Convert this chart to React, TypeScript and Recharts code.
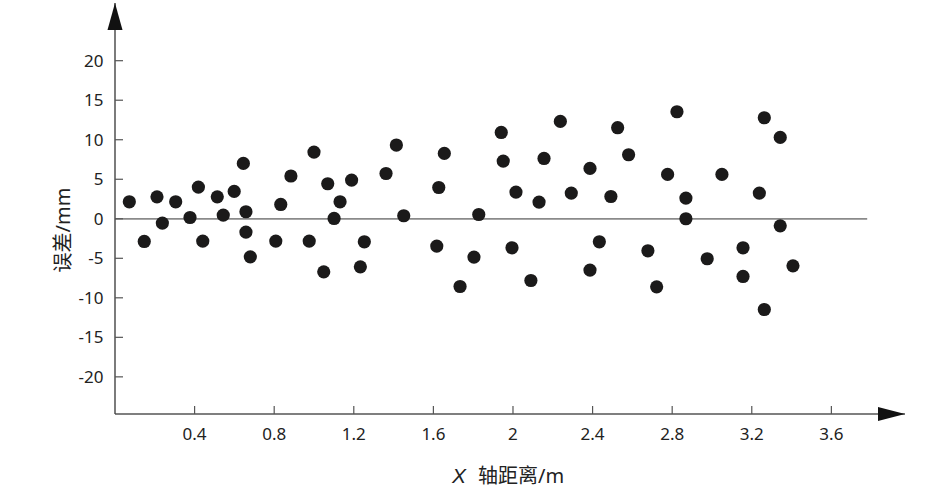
import React from "react";
import {
  ScatterChart,
  Scatter,
  XAxis,
  YAxis,
  ReferenceLine,
  ReferenceDot,
} from "recharts";

// X-axis distance (m)
const xValues: number[] = [
  0.072, 0.147, 0.211, 0.238, 0.305, 0.377, 0.419, 0.441, 0.514, 0.544,
  0.599, 0.645, 0.658, 0.658, 0.68, 0.808, 0.833, 0.884, 1.0, 0.976,
  1.049, 1.069, 1.101, 1.131, 1.189, 1.233, 1.253, 1.362, 1.414, 1.451,
  1.617, 1.627, 1.655, 1.734, 1.804, 1.828, 1.941, 1.951, 1.995, 2.015,
  2.09, 2.131, 2.156, 2.238, 2.293, 2.387, 2.387, 2.434, 2.492, 2.526,
  2.581, 2.678, 2.722, 2.777, 2.824, 2.869, 2.869, 2.976, 3.05, 3.156,
  3.156, 3.238, 3.263, 3.263, 3.343, 3.343, 3.407,
];

// Error (mm)
const errValues: number[] = [
  2.15, -2.87, 2.78, -0.54, 2.15, 0.16, 4.01, -2.82, 2.78, 0.47,
  3.46, 7.0, 0.89, -1.68, -4.81, -2.82, 1.81, 5.41, 8.44, -2.82,
  -6.71, 4.43, 0.04, 2.15, 4.9, -6.08, -2.91, 5.73, 9.33, 0.38,
  -3.46, 3.96, 8.27, -8.57, -4.85, 0.54, 10.92, 7.3, -3.67, 3.38,
  -7.81, 2.11, 7.63, 12.32, 3.25, 6.37, -6.49, -2.91, 2.82, 11.52,
  8.1, -4.05, -8.61, 5.61, 13.54, 2.62, 0.0, -5.06, 5.61, -3.67,
  -7.3, 3.25, 12.78, -11.48, 10.29, -0.89, -5.95,
];

const xTicks: number[] = [0.4, 0.8, 1.2, 1.6, 2, 2.4, 2.8, 3.2, 3.6];
const yTicks: number[] = [20, 15, 10, 5, 0, -5, -10, -15, -20];

const X_MAX = 3.97;
const Y_MIN = -24.7;
const Y_MAX = 27.3;
const ZERO_LINE_END = 3.78;

const data = xValues.map((x, i) => ({ x, y: errValues[i] }));

const FONT = "'Noto Sans', 'Noto Sans CJK SC', sans-serif";

const Dot = (props: any) => {
  const { cx, cy } = props;
  if (cx == null || cy == null) return null;
  return <circle cx={cx} cy={cy} r={6.6} fill="#1b1a1a" />;
};

const UpArrow = (props: any) => {
  const { cx, cy } = props;
  return (
    <polygon
      points={`${cx},${cy} ${cx - 7.5},${cy + 27} ${cx + 7.5},${cy + 27}`}
      fill="#111"
    />
  );
};

const RightArrow = (props: any) => {
  const { cx, cy } = props;
  return (
    <polygon
      points={`${cx},${cy} ${cx - 27},${cy - 7} ${cx - 27},${cy + 7}`}
      fill="#111"
    />
  );
};

export default function App() {
  return (
    <div
      style={{
        position: "absolute",
        left: 0,
        top: 0,
        width: 946,
        height: 495,
        background: "#fff",
      }}
    >
      <ScatterChart
        width={946}
        height={495}
        margin={{ top: 3, right: 41, bottom: 51, left: 55 }}
      >
        <XAxis
          type="number"
          dataKey="x"
          domain={[0, X_MAX]}
          ticks={xTicks}
          allowDataOverflow
          height={30}
          tickSize={-8}
          tickMargin={22}
          axisLine={{ stroke: "#555", strokeWidth: 1.4 }}
          tickLine={{ stroke: "#555", strokeWidth: 1.2 }}
          tick={{ fill: "#222", fontSize: 17, fontFamily: FONT }}
        />
        <YAxis
          type="number"
          dataKey="y"
          domain={[Y_MIN, Y_MAX]}
          ticks={yTicks}
          allowDataOverflow
          width={60}
          tickSize={-8}
          tickMargin={19.5}
          axisLine={{ stroke: "#444", strokeWidth: 1.4 }}
          tickLine={{ stroke: "#555", strokeWidth: 1.2 }}
          tick={{ fill: "#222", fontSize: 17, fontFamily: FONT }}
        />
        <ReferenceLine
          segment={[
            { x: 0, y: 0 },
            { x: ZERO_LINE_END, y: 0 },
          ]}
          stroke="#8a8a8a"
          strokeWidth={1.8}
          ifOverflow="visible"
        />
        <Scatter data={data} isAnimationActive={false} shape={<Dot />} />
        <ReferenceDot
          x={0}
          y={Y_MAX}
          ifOverflow="visible"
          shape={<UpArrow />}
        />
        <ReferenceDot
          x={X_MAX}
          y={Y_MIN}
          ifOverflow="visible"
          shape={<RightArrow />}
        />
        <text
          x={62}
          y={230}
          textAnchor="middle"
          dominantBaseline="central"
          transform="rotate(-90 62 230)"
          fontSize={20}
          fontFamily={FONT}
          fill="#222"
        >
          误差/mm
        </text>
        <text x={452} y={483} fontSize={20} fontFamily={FONT} fill="#222">
          <tspan fontStyle="italic" fontFamily="'Liberation Sans', sans-serif" fontSize={21}>
            X
          </tspan>
          <tspan dx={12}>轴距离/m</tspan>
        </text>
      </ScatterChart>
    </div>
  );
}
